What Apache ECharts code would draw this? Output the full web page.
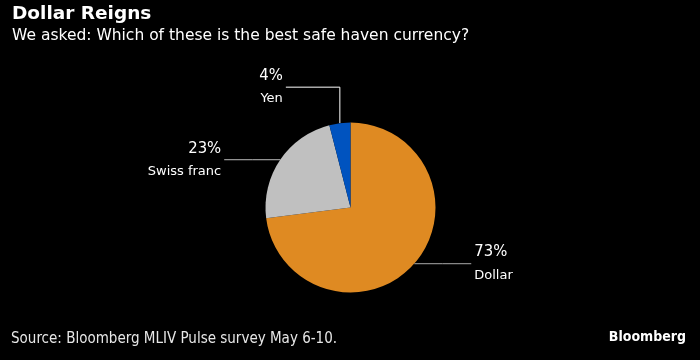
<!DOCTYPE html>
<html><head><meta charset="utf-8">
<script src="https://cdn.jsdelivr.net/npm/echarts@6/dist/echarts.min.js"></script>
<style>html,body{margin:0;padding:0;background:#000;} #c{width:700px;height:360px;}</style>
</head><body><div id="c"></div>
<script>
const categories = ['Dollar', 'Swiss franc', 'Yen'];
const shares = [73, 23, 4];
const titleText = 'Dollar Reigns';
const subtitleText = 'We asked: Which of these is the best safe haven currency?';
const sourceText = 'Source: Bloomberg MLIV Pulse survey May 6-10.';
const brandText = 'Bloomberg';

const colors = ['#DF8A22', '#C0C0C0', '#0053BF'];
const lineColors = ['#aaaaaa', '#bbbbbb', '#ffffff'];
const CX = 350.5, CY = 207.5, R = 85;
const total = shares.reduce((a, b) => a + b, 0);

function midPoint(i) {
  let before = 0;
  for (let k = 0; k < i; k++) before += shares[k];
  const a = (before + shares[i] / 2) / total * 2 * Math.PI;
  return [CX + R * Math.sin(a), CY - R * Math.cos(a)];
}

function layoutFor(i) {
  const p0 = midPoint(i);
  if (i === 0) {
    return { x: p0[0] + 60, y: p0[1], align: 'left', verticalAlign: 'middle',
      labelLinePoints: [p0, [p0[0] + 28, p0[1]], [p0[0] + 57, p0[1]]] };
  } else if (i === 1) {
    return { x: p0[0] - 59, y: p0[1], align: 'right', verticalAlign: 'middle',
      labelLinePoints: [p0, [p0[0] - 28, p0[1]], [p0[0] - 56, p0[1]]] };
  } else {
    const top = p0[1] - 36;
    return { x: p0[0] - 57, y: top, align: 'right', verticalAlign: 'middle',
      labelLinePoints: [p0, [p0[0], top], [p0[0] - 54, top]] };
  }
}

const chart = echarts.init(document.getElementById('c'), null, { renderer: 'canvas' });
chart.setOption({
  backgroundColor: '#000',
  animation: false,
  title: [
    { text: titleText, left: 12, top: 4.5, padding: 0,
      textStyle: { color: '#fff', fontFamily: 'DejaVu Sans', fontWeight: 'bold', fontSize: 18.5 } },
    { text: subtitleText, left: 12, top: 28, padding: 0,
      textStyle: { color: '#fff', fontFamily: 'DejaVu Sans', fontWeight: 'normal', fontSize: 15.5 } },
    { text: sourceText, left: 11, top: 332, padding: 0,
      textStyle: { color: '#e6e6e6', fontFamily: 'DejaVu Sans Condensed', fontWeight: 'normal', fontSize: 15 } },
    { text: brandText, right: 14, top: 330.5, padding: 0,
      textStyle: { color: '#fff', fontFamily: 'DejaVu Sans Condensed', fontWeight: 'bold', fontSize: 14 } }
  ],
  series: [{
    type: 'pie',
    center: [CX, CY],
    radius: [0, R],
    startAngle: 90,
    clockwise: true,
    avoidLabelOverlap: false,
    silent: true,
    itemStyle: { borderWidth: 0 },
    label: {
      show: true,
      position: 'outside',
      formatter: p => '{p|' + shares[p.dataIndex] + '%}\n{n|' + categories[p.dataIndex] + '}',
      rich: {
        p: { color: '#fff', fontFamily: 'DejaVu Sans Condensed', fontSize: 16.5, lineHeight: 23 },
        n: { color: '#fff', fontFamily: 'DejaVu Sans', fontSize: 13, lineHeight: 23 }
      }
    },
    labelLine: { show: true, lineStyle: { width: 1 } },
    labelLayout: params => layoutFor(params.dataIndex),
    data: categories.map((c, i) => ({
      name: c, value: shares[i],
      itemStyle: { color: colors[i] },
      labelLine: { lineStyle: { color: lineColors[i], width: 1 } }
    }))
  }]
});
</script></body></html>
